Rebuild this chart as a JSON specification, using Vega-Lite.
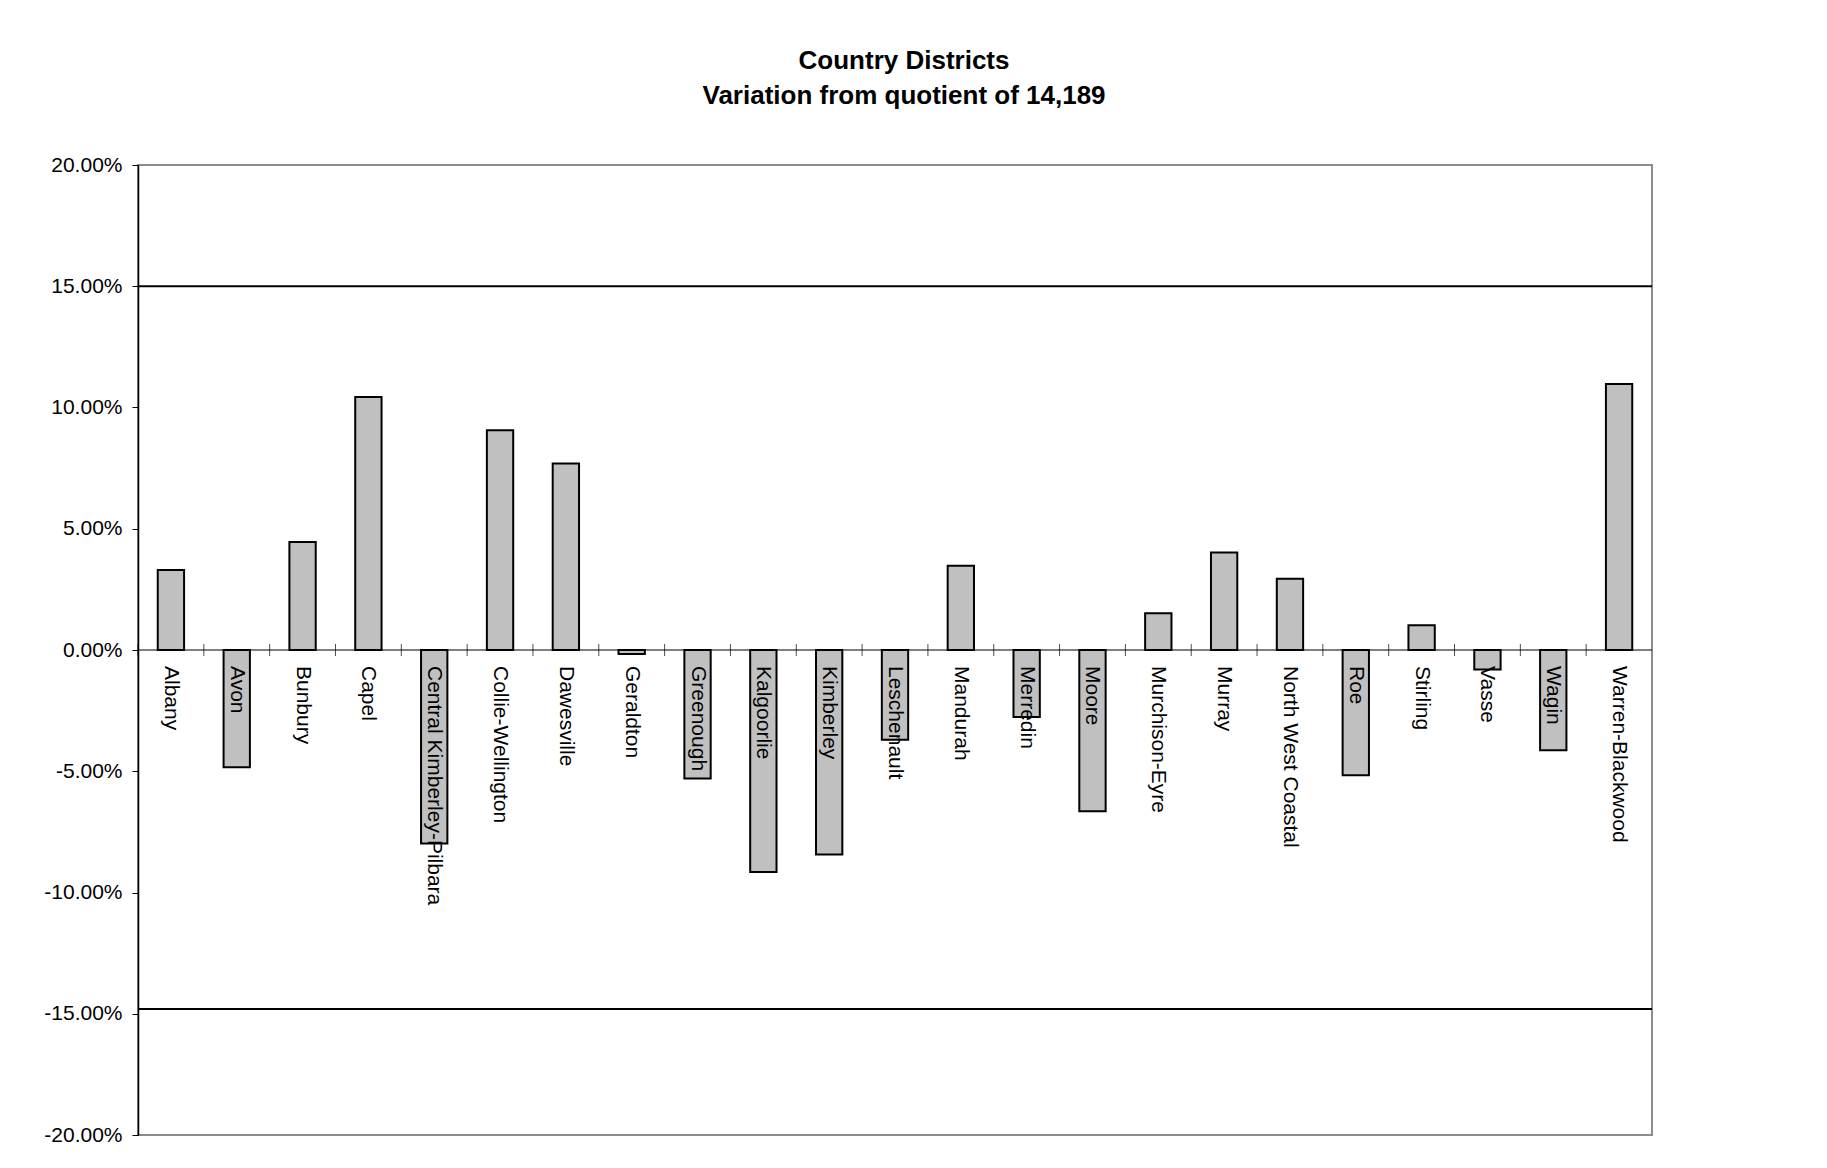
{
  "$schema": "https://vega.github.io/schema/vega-lite/v6.json",
  "width": 1514,
  "height": 970,
  "autosize": {"type": "none"},
  "padding": {"left": 138, "top": 165, "right": 175, "bottom": 33},
  "background": "white",
  "title": {
    "text": ["Country Districts", "Variation from quotient of 14,189"],
    "font": "Liberation Sans",
    "fontSize": 26,
    "fontWeight": "bold",
    "color": "black",
    "lineHeight": 35,
    "anchor": "middle",
    "offset": 45,
    "dx": 9
  },
  "config": {
    "view": {"stroke": "#8c8c8c", "strokeWidth": 2},
    "font": "Liberation Sans"
  },
  "data": {
    "values": [
      {"district": "Albany", "variation": 0.0330},
      {"district": "Avon", "variation": -0.0483},
      {"district": "Bunbury", "variation": 0.0445},
      {"district": "Capel", "variation": 0.1043},
      {"district": "Central Kimberley-Pilbara", "variation": -0.0798},
      {"district": "Collie-Wellington", "variation": 0.0906},
      {"district": "Dawesville", "variation": 0.0769},
      {"district": "Geraldton", "variation": -0.0017},
      {"district": "Greenough", "variation": -0.0530},
      {"district": "Kalgoorlie", "variation": -0.0915},
      {"district": "Kimberley", "variation": -0.0843},
      {"district": "Leschenault", "variation": -0.0370},
      {"district": "Mandurah", "variation": 0.0347},
      {"district": "Merredin", "variation": -0.0276},
      {"district": "Moore", "variation": -0.0665},
      {"district": "Murchison-Eyre", "variation": 0.0152},
      {"district": "Murray", "variation": 0.0402},
      {"district": "North West Coastal", "variation": 0.0294},
      {"district": "Roe", "variation": -0.0517},
      {"district": "Stirling", "variation": 0.0102},
      {"district": "Vasse", "variation": -0.0080},
      {"district": "Wagin", "variation": -0.0413},
      {"district": "Warren-Blackwood", "variation": 0.1097}
    ]
  },
  "layer": [
    {
      "data": {"values": [{"limit": "upper"}]},
      "mark": {"type": "rule", "color": "black", "strokeWidth": 2},
      "encoding": {"y": {"datum": 0.15, "type": "quantitative"}}
    },
    {
      "data": {"values": [{"limit": "lower"}]},
      "mark": {"type": "rule", "color": "black", "strokeWidth": 2},
      "encoding": {"y": {"datum": -0.148, "type": "quantitative"}}
    },
    {
      "data": {"values": [{"limit": "zero"}]},
      "mark": {"type": "rule", "color": "black", "strokeWidth": 1},
      "encoding": {"y": {"datum": 0, "type": "quantitative"}}
    },
    {
      "mark": {"type": "bar", "fill": "#c0c0c0", "stroke": "black", "strokeWidth": 2, "width": {"band": 0.4}},
      "encoding": {
        "x": {"field": "district", "type": "nominal", "sort": null, "axis": null, "scale": {"paddingInner": 0, "paddingOuter": 0}},
        "y": {
          "field": "variation",
          "type": "quantitative",
          "scale": {"domain": [-0.2, 0.2], "nice": false},
          "axis": {
            "title": null,
            "format": ".2%",
            "labelExpr": "replace(datum.label, '\u2212', '-')",
            "values": [-0.2, -0.15, -0.1, -0.05, 0, 0.05, 0.1, 0.15, 0.2],
            "grid": false,
            "domainColor": "black",
            "domainWidth": 1.5,
            "tickColor": "black",
            "tickSize": 6,
            "labelPadding": 10,
            "labelFont": "Liberation Sans",
            "labelFontSize": 21,
            "labelColor": "black",
            "labelFlush": false,
            "minExtent": 133,
            "maxExtent": 133
          }
        }
      }
    },
    {
      "mark": {"type": "tick", "orient": "vertical", "color": "black", "size": 12, "thickness": 1},
      "encoding": {
        "x": {"field": "district", "type": "nominal", "sort": null, "axis": null, "bandPosition": 0},
        "y": {"datum": 0, "type": "quantitative"}
      }
    },
    {
      "mark": {"type": "text", "angle": 90, "align": "left", "baseline": "middle", "dx": 16, "font": "Liberation Sans", "fontSize": 21, "color": "black"},
      "encoding": {
        "x": {"field": "district", "type": "nominal", "sort": null, "axis": null},
        "y": {"datum": 0, "type": "quantitative"},
        "text": {"field": "district"}
      }
    }
  ]
}
